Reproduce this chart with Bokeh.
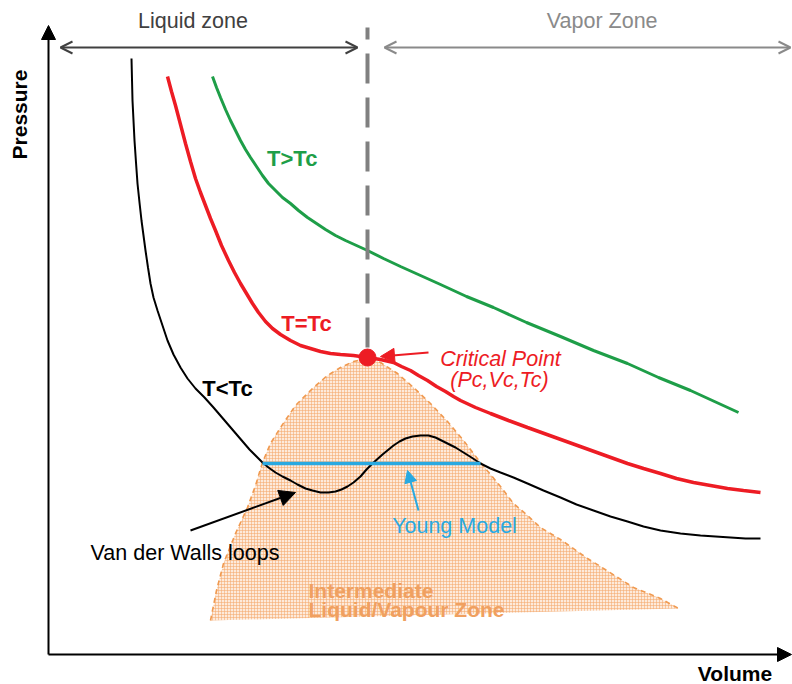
import math
from bokeh.plotting import figure
from bokeh.models import Range1d, Arrow, OpenHead, NormalHead
from bokeh.core.properties import value
from bokeh.embed import file_html
from bokeh.resources import INLINE

# ---------------- data (volume, pressure in arbitrary schematic units) ----------------
green_v = [164, 168, 172, 177, 182, 187, 192, 197, 202, 208, 214, 220, 227, 234, 242, 250, 259, 268, 277, 287,
           297, 308, 319, 335, 352, 372, 392, 418, 445, 478, 512, 545, 579, 610, 642, 666, 690]
green_p = [578, 567, 557, 545, 534, 524, 514, 505, 497, 488, 479, 471, 464, 457, 451, 444, 437, 431, 425, 419,
           414, 409, 404, 396, 388, 379, 370, 358, 347, 332, 318, 304, 291, 277, 264, 253, 242]

red_v = [119, 123, 127, 132, 137, 142, 147, 152, 157, 162, 167, 173, 180, 186, 192, 198, 204, 210, 217, 224,
         232, 242, 252, 262, 272, 282, 292, 305, 319, 332, 345, 353, 362, 370, 379, 388, 397, 405, 412, 427,
         442, 460, 479, 504, 529, 554, 579, 595, 612, 628, 645, 662, 679, 695, 712]
red_p = [578, 563, 549, 530, 511, 493, 476, 462, 449, 436, 424, 409, 394, 382, 371, 361, 351, 342, 333, 326,
         320, 314, 309, 306, 303, 301, 300, 299, 297, 295, 292, 288, 284, 279, 274, 268, 263, 258, 254, 247,
         241, 234, 227, 218, 209, 200, 191, 186, 181, 176, 172, 169, 166, 164, 162]

black_v = [83, 83.5, 84, 85, 86, 87.5, 89, 91, 93, 95, 97, 99.5, 102, 105, 109, 114, 119, 125, 132, 139,
           147, 156, 165, 177, 189, 201, 214, 220, 227, 234, 242, 249, 257, 264, 272, 280, 287, 293, 299, 305,
           312, 318, 324, 334, 345, 351, 357, 364, 372, 380, 387, 393, 399, 407, 415, 423, 432, 442, 452, 465,
           479, 495, 512, 528, 545, 562, 579, 595, 612, 632, 652, 667, 682, 697, 712]
black_p = [596, 575, 554, 534, 514, 492, 471, 452, 434, 419, 404, 387, 371, 357, 344, 329, 314, 300, 287, 276,
           266, 257, 247, 233, 219, 205, 192, 187, 182, 178, 174, 170, 166, 164, 162, 162, 163, 165, 168, 172,
           178, 185, 191, 200, 209, 213, 216, 218, 219, 219, 217, 214, 211, 207, 202, 197, 191, 186, 182, 177,
           171, 164, 157, 150, 144, 138, 133, 128, 124, 121, 119, 118, 117, 116, 116]

dome_v = [162, 168, 175, 187, 199, 207, 214, 222, 232, 247, 265, 279, 292, 305, 319, 332, 349, 365, 382, 399,
          415, 432, 452, 465, 479, 492, 512, 539, 552, 585, 612, 630]
dome_p = [34, 64, 91, 121, 147, 169, 192, 211, 227, 249, 267, 279, 287, 293, 296, 292, 281, 267, 251, 233,
          214, 192, 168, 151, 139, 127, 115, 96, 88, 67, 56, 46]

young_v = [214, 432]
young_p = [191, 191]

crit_v = 319
crit_p = 297
zone_top = 627
zone_arrow_p = 607
liquid_zone_v = [12, 309]
vapor_zone_v = [336, 742]
axis_end_v = 743
axis_end_p = 629

# ---------------- figure ----------------
p = figure(width=792, height=684, x_range=Range1d(-48, 744), y_range=Range1d(-30, 654),
           output_backend="svg", toolbar_location=None, x_axis_type=None, y_axis_type=None,
           min_border=0, min_border_left=0, min_border_right=0, min_border_top=0, min_border_bottom=0)
p.outline_line_color = None
p.background_fill_color = "white"

FONT = value("Liberation Sans")

# two-phase dome
p.patch(dome_v, dome_p, fill_color="#FDEADB", fill_alpha=1.0, line_color=None,
        hatch_pattern="+", hatch_color="#F5A96E", hatch_alpha=0.7, hatch_scale=3, hatch_weight=0.8)
p.line(dome_v, dome_p, line_color="#F09A50", line_width=1.6, line_dash="5 4")

# isotherms
p.line(black_v, black_p, line_color="black", line_width=2)
p.line(red_v, red_p, line_color="#ED1C24", line_width=3.5)
p.line(green_v, green_p, line_color="#1E9E48", line_width=3)

# Young model
p.line(young_v, young_p, line_color="#29A9E1", line_width=3.5)

# vertical dashed line at critical volume
p.line([crit_v, crit_v], [crit_p, zone_top], line_color="#808080", line_width=4,
       line_dash="30 14", line_dash_offset=34)

# critical point
p.scatter([crit_v], [crit_p], size=17, fill_color="#ED1C24", line_color="#ED1C24")

# axes arrows
p.add_layout(Arrow(end=NormalHead(size=14, fill_color="black", line_color="black", line_width=1),
                   x_start=0, y_start=0, x_end=0, y_end=axis_end_p, line_color="black", line_width=2))
p.add_layout(Arrow(end=NormalHead(size=14, fill_color="black", line_color="black", line_width=1),
                   x_start=0, y_start=0, x_end=axis_end_v, y_end=0, line_color="black", line_width=2))

# zone arrows
p.add_layout(Arrow(start=OpenHead(size=12, line_color="#404040", line_width=2),
                   end=OpenHead(size=12, line_color="#404040", line_width=2),
                   x_start=liquid_zone_v[0], y_start=zone_arrow_p, x_end=liquid_zone_v[1], y_end=zone_arrow_p,
                   line_color="#404040", line_width=2))
p.add_layout(Arrow(start=OpenHead(size=12, line_color="#8A8A8A", line_width=2),
                   end=OpenHead(size=12, line_color="#8A8A8A", line_width=2),
                   x_start=vapor_zone_v[0], y_start=zone_arrow_p, x_end=vapor_zone_v[1], y_end=zone_arrow_p,
                   line_color="#8A8A8A", line_width=2))

# annotation arrows
p.add_layout(Arrow(end=NormalHead(size=14, fill_color="#ED1C24", line_color="#ED1C24", line_width=1),
                   x_start=380, y_start=302, x_end=332, y_end=298, line_color="#ED1C24", line_width=2))
p.add_layout(Arrow(end=NormalHead(size=16, fill_color="black", line_color="black", line_width=1),
                   x_start=142, y_start=124, x_end=247, y_end=162, line_color="black", line_width=2))
p.add_layout(Arrow(end=NormalHead(size=12, fill_color="#29A9E1", line_color="#29A9E1", line_width=1),
                   x_start=370, y_start=144, x_end=359, y_end=184, line_color="#29A9E1", line_width=2))

# texts
def label(x, y, t, color, style="normal", size="21px", align="center", baseline="alphabetic", angle=0):
    p.text([x], [y], text=[t], text_color=color, text_font=FONT, text_font_style=style,
           text_font_size=size, text_align=align, text_baseline=baseline, angle=angle)

label(144.5, 634, "Liquid zone", "#404040", size="21.5px")
label(553.7, 634, "Vapor Zone", "#8A8A8A", size="21.5px")
label(-29, 540, "Pressure", "black", style="bold", angle=math.pi / 2)
label(686.5, -19, "Volume", "black", style="bold")
label(243.7, 496, "T>Tc", "#1E9E48", style="bold", size="22px")
label(258, 331, "T=Tc", "#ED1C24", style="bold", size="22px")
label(179, 266, "T<Tc", "black", style="bold", size="22px")
label(452, 296, "Critical Point", "#ED1C24", style="italic", size="21.5px")
label(451, 275, "(Pc,Vc,Tc)", "#ED1C24", style="italic", size="21.5px")
label(136.5, 102, "Van der Walls loops", "black", size="21.5px")
label(406, 129, "Young Model", "#29A9E1", size="21.5px")
label(260, 64, "Intermediate", "#F0A060", style="bold", align="left", size="21px")
label(260, 45, "Liquid/Vapour Zone", "#F0A060", style="bold", align="left", size="21px")

open("out.html", "w").write(file_html(p, INLINE))
